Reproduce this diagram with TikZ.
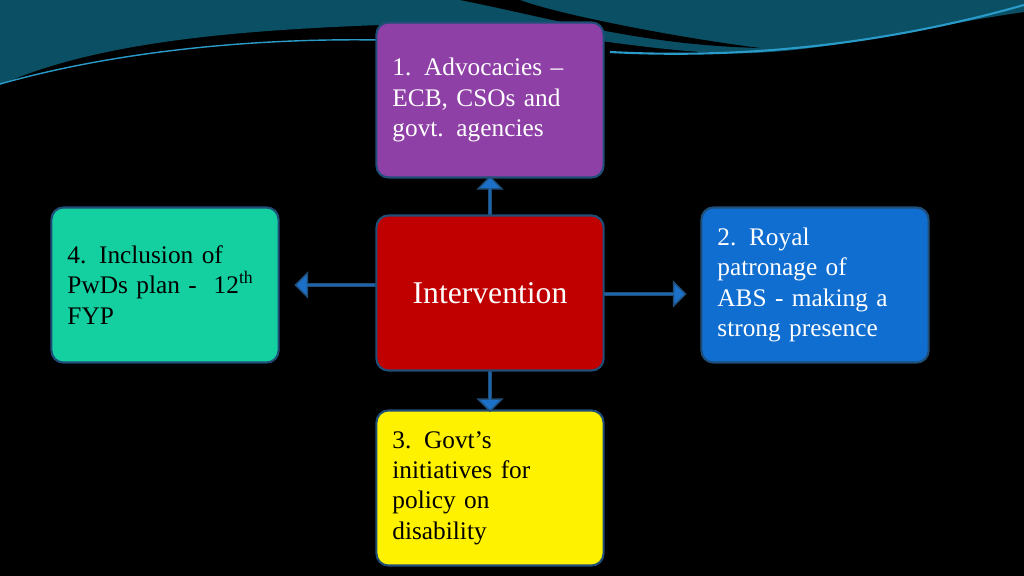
\documentclass[tikz,border=0pt]{standalone}
\usepackage{fontspec}
\setmainfont{Liberation Serif}
\usetikzlibrary{positioning,shapes.arrows,calc}
\definecolor{bgteal}{HTML}{0A4F63}
\definecolor{boxline}{HTML}{1F4E79}
\definecolor{arrblue}{HTML}{1C70C8}
\tikzset{
    % box style
    box/.style = {draw=boxline, line width=0.6pt, rounded corners=0.12cm, minimum width=2.27cm, minimum height=1.55cm, text width=1.95cm, align=left, text=black, font=\fontsize{7.2}{8.6}\selectfont, inner sep=0pt},
    % block arrow style
    blockarrow/.style = {single arrow, fill=arrblue, draw=boxline, line width=0.4pt, single arrow head extend=0.06cm, minimum height=#1, minimum width=0.24cm, inner sep=0pt}
}
\begin{document}
\begin{tikzpicture}[x=0.01cm, y=-0.01cm]
        % background and top wave
        \fill[black] (0,0) rectangle (1024,576);
        \useasboundingbox (0,0) rectangle (1024,576);
        \fill[bgteal] (0,0) -- (1024,0) -- (1024,12) .. controls (900,30) and (800,60) .. (700,52) .. controls (600,45) and (500,20) .. (380,25) .. controls (250,30) and (100,40) .. (0,85) -- cycle;
        \fill[black] (460,0) .. controls (560,20) and (640,45) .. (760,48) .. controls (680,38) and (560,15) .. (520,0) -- cycle;
        \draw[cyan!60!teal, line width=0.4pt] (0,84) .. controls (120,50) and (260,38) .. (380,40);
        \draw[cyan!60!teal, line width=0.6pt] (610,52) .. controls (760,60) and (900,40) .. (1024,5);
        % boxes
        \node[box, fill={rgb,255:red,142;green,64;blue,166}, text=white] (adv) at (490,100) {1. Advocacies --\\ECB, CSOs and\\govt. agencies};
        \node[box, fill={rgb,255:red,192;green,0;blue,0}, text=white, align=center, font=\fontsize{9}{11}\selectfont] (int) at (490,293) {Intervention};
        \node[box, fill={rgb,255:red,20;green,208;blue,160}] (inc) at (165,285) {4. Inclusion of\\PwDs plan - \ 12\textsuperscript{th}\\FYP};
        \node[box, fill={rgb,255:red,16;green,110;blue,208}, text=white] (roy) at (815,285) {2. Royal\\patronage of\\ABS - making a\\strong presence};
        \node[box, fill=yellow] (gov) at (490,488) {3. Govt's\\initiatives for\\policy on\\disability};
        % arrows
        \node[blockarrow=0.38cm, rotate=90] (aup) at ($(int.north)!0.5!(adv.south)$) {};
        \node[blockarrow=0.40cm, rotate=-90] (adn) at ($(int.south)!0.5!(gov.north)$) {};
        \node[blockarrow=0.80cm, rotate=180] (alt) at (336,285) {};
        \node[blockarrow=0.82cm] (art) at (644,294) {};
\end{tikzpicture}
\end{document}
